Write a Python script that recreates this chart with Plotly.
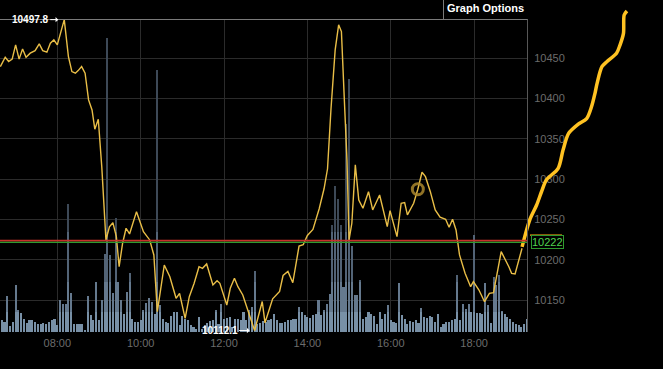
import numpy as np
import pandas as pd
import plotly.graph_objects as go

DAY = "2024-01-02 "

# ---- price line (thin yellow) ----
price_times = ["06:38","06:45","06:50","06:55","07:00","07:05","07:10","07:15","07:21","07:28",
               "07:34","07:39","07:45","07:50","07:55","08:00","08:10","08:16","08:21","08:26",
               "08:30","08:35","08:40","08:45","08:50","08:54","08:59","09:04","09:10","09:15",
               "09:20","09:25","09:29","09:34","09:39","09:44","09:54","10:04","10:13","10:19",
               "10:24","10:29","10:34","10:42","10:51","10:56","11:04","11:10","11:17","11:24",
               "11:29","11:35","11:44","11:50","11:54","12:04","12:09","12:15","12:20","12:27",
               "12:34","12:44","12:55","12:59","13:10","13:20","13:25","13:32","13:39","13:48",
               "13:54","14:00","14:08","14:17","14:24","14:29","14:34","14:40","14:45","14:49",
               "14:53","14:57","15:00","15:04","15:09","15:14","15:20","15:28","15:34","15:44",
               "15:55","15:59","16:09","16:15","16:20","16:24","16:33","16:39","16:45","16:50",
               "16:57","17:04","17:11","17:19","17:24","17:29","17:34","17:39","17:47","17:55",
               "17:59","18:07","18:15","18:22","18:28","18:39","18:50","18:54","18:59","19:09"]
price_values = [10439.6,10451.2,10445.8,10448.8,10466.5,10448.8,10461.5,10451.2,10456.2,10459.4,
                10467.7,10459.4,10457.4,10468.6,10472.7,10466.5,10497.8,10452.0,10433.4,10431.4,
                10434.6,10439.6,10431.4,10398.2,10385.8,10361.9,10374.3,10315.5,10224.5,10240.9,
                10245.9,10228.6,10191.3,10220.4,10239.0,10231.9,10259.6,10234.8,10224.5,10205.9,
                10135.5,10166.5,10193.4,10178.9,10152.1,10158.3,10127.3,10154.1,10170.7,10191.3,
                10189.3,10194.7,10168.6,10174.0,10170.7,10143.8,10164.5,10176.9,10166.5,10156.2,
                10137.6,10112.1,10148.1,10121.7,10151.5,10160.6,10180.4,10185.4,10171.4,10216.9,
                10218.5,10230.0,10237.5,10263.2,10288.0,10312.8,10387.3,10460.3,10491.3,10483.0,
                10402.3,10323.8,10224.5,10245.2,10317.6,10274.1,10263.8,10284.4,10261.7,10280.3,
                10241.0,10260.8,10228.6,10270.0,10270.8,10255.6,10270.0,10287.4,10308.5,10303.0,
                10284.4,10261.7,10252.7,10250.2,10240.2,10250.2,10236.9,10205.9,10183.1,10166.5,
                10172.7,10162.4,10147.9,10158.3,10159.1,10210.0,10191.3,10183.1,10182.3,10214.2]

# ---- live segment (thick orange) ----
live_times = ["19:09","19:20","19:30","19:37","19:44","20:01","20:08","20:16","20:30","20:42",
              "20:49","20:54","20:57","21:04","21:11","21:25","21:30","21:35","21:36","21:40"]
live_values = [10216.0,10249.3,10267.9,10284.4,10299.0,10313.5,10336.2,10356.9,10368.4,10375.3,
               10389.9,10406.6,10419.0,10439.6,10445.8,10456.2,10466.5,10481.0,10503.7,10508.7]

# ---- volume bars (4-minute intervals) ----
vol_start = "06:40"
vol_step = "4min"
vol_values = [117,100,357,57,100,473,223,190,133,90,123,117,100,77,83,90,83,100,117,133,
              67,317,277,283,1277,390,83,83,83,77,23,357,167,117,500,117,317,783,2940,767,
              390,1143,500,317,183,400,590,133,100,100,123,223,290,343,300,183,2623,267,133,100,
              90,157,200,
              200,67,157,133,117,67,50,33,150,33,67,90,110,117,217,83,277,133,143,150,
              50,133,133,117,200,117,217,250,607,83,90,110,100,117,133,183,117,90,90,100,
              117,123,133,133,250,200,167,150,143,167,183,317,167,223,283,377,1067,1457,1333,1067,
              450,2083,2533,
              860,367,367,523,133,150,200,177,157,83,200,133,183,267,117,100,90,493,167,133,
              83,110,100,117,90,240,150,143,157,150,100,177,50,83,100,100,117,133,567,123,
              277,233,283,200,973,190,190,183,490,267,90,550,467,567,210,183,150,133,100,83,
              67,50,83,133]

# ---- markers / reference values ----
high_time, high_value = "08:10", 10497.8
low_time, low_value = "12:44", 10112.1
circle_time, circle_value = "16:39", 10287.4
last_price = 10222
red_level, green_level, orange_level = 10223.6, 10221.4, 10230.5
y_ticks_step = 50

def ts(s):
    return DAY + s

W, H = 663, 369
px_left, px_right, px_top, px_bottom = 0, 528, 19, 332

x_range = [ts("06:37:30"), ts("19:17:36")]
y_range = [10110.3, 10498.6]
x_full_range = [ts("06:37:30"), ts("22:31:54")]
y_full_range = [10064.4, 10522.4]

xdom = [px_left / W, px_right / W]
ydom = [(H - px_bottom) / H, (H - px_top) / H]

fig = go.Figure()

vol_times = pd.date_range(ts(vol_start), periods=len(vol_values), freq=vol_step)
v = np.array(vol_values, dtype=float)
bands = [(0, 200, "#7890a6"), (200, 500, "#65798e"), (500, 1000, "#526376"), (1000, 1e9, "#3d4957")]
for lo, hi, col in bands:
    seg = np.clip(v - lo, 0, hi - lo)
    fig.add_trace(go.Bar(x=vol_times, y=seg, xaxis="x", yaxis="y",
                         marker=dict(color=col, line=dict(width=0)),
                         hoverinfo="skip", showlegend=False))

fig.add_trace(go.Scatter(x=[ts(t) for t in price_times], y=price_values, xaxis="x", yaxis="y2",
                         mode="lines", line=dict(color="#e9be47", width=1.4),
                         hoverinfo="skip", showlegend=False))
fig.add_trace(go.Scatter(x=[ts(circle_time)], y=[circle_value], xaxis="x", yaxis="y2",
                         mode="markers",
                         marker=dict(symbol="circle-open", size=11, color="rgba(170,135,45,0.85)",
                                     line=dict(width=3)),
                         hoverinfo="skip", showlegend=False))
fig.add_trace(go.Scatter(x=[ts(t) for t in live_times], y=live_values, xaxis="x3", yaxis="y3",
                         mode="lines", line=dict(color="#ffc222", width=3.5, shape="spline",
                                                 smoothing=0.8),
                         hoverinfo="skip", showlegend=False))

tickfont = dict(family="Liberation Sans, Arial, sans-serif", size=11, color="#6c6c6c")
grid = "#2b2b2b"

fig.update_layout(
    width=W, height=H,
    margin=dict(l=0, r=0, t=0, b=0),
    paper_bgcolor="black", plot_bgcolor="rgba(0,0,0,0)",
    barmode="stack", bargap=0.25,
    showlegend=False,
    xaxis=dict(domain=xdom, anchor="y", type="date", range=x_range,
               showgrid=True, gridcolor=grid, gridwidth=1, zeroline=False, showline=False,
               tickformat="%H:%M", dtick=7200000, tick0=ts("08:00"),
               ticks="outside", ticklen=1, tickcolor="rgba(0,0,0,0)", tickfont=tickfont),
    yaxis=dict(domain=ydom, anchor="x", range=[0, 3130], visible=False, showgrid=False),
    yaxis2=dict(overlaying="y", anchor="x", side="right", range=y_range,
                dtick=y_ticks_step, tick0=10000, tickformat="d",
                showgrid=True, gridcolor=grid, gridwidth=1,
                zeroline=False, showline=False, ticks="outside", ticklen=3,
                tickcolor="rgba(0,0,0,0)", tickfont=tickfont),
    xaxis3=dict(domain=[0, 1], anchor="y3", type="date", range=x_full_range, visible=False,
                showgrid=False),
    yaxis3=dict(domain=[0, 1], anchor="x3", range=y_full_range, visible=False, showgrid=False),
)

top_y = (H - px_top - 0.5) / H
shapes = [
    dict(type="line", xref="x domain", x0=0, x1=1, yref="y2", y0=red_level, y1=red_level,
         line=dict(color="#c8302a", width=1.6), layer="above"),
    dict(type="line", xref="x domain", x0=0, x1=1, yref="y2", y0=green_level, y1=green_level,
         line=dict(color="#2f9a2f", width=1.2), layer="above"),
    dict(type="line", xref="paper", x0=0, x1=px_right / W, yref="paper", y0=top_y, y1=top_y,
         line=dict(color="#7a7a7a", width=1), layer="above"),
    dict(type="line", xref="paper", x0=(px_right - 0.5) / W, x1=(px_right - 0.5) / W,
         yref="paper", y0=(H - px_bottom) / H, y1=top_y,
         line=dict(color="#575757", width=1), layer="above"),
    dict(type="line", xref="paper", x0=443.5 / W, x1=443.5 / W, yref="paper", y0=top_y, y1=1,
         line=dict(color="#7a7a7a", width=1), layer="above"),
    dict(type="line", xref="paper", x0=530 / W, x1=562 / W, yref="y2", y0=orange_level, y1=orange_level,
         line=dict(color="#d08c10", width=1.5), layer="above"),
]
fig.update_layout(shapes=shapes)

lab_font = dict(family="Liberation Sans, Arial, sans-serif", size=10, color="white")
fig.add_annotation(x=ts(high_time), y=high_value, xref="x", yref="y2",
                   text="<b>%.1f</b>" % high_value, showarrow=True, ax=-34, ay=0,
                   arrowhead=1, arrowsize=0.9, arrowwidth=1, arrowcolor="white", standoff=6,
                   font=lab_font)
fig.add_annotation(x=ts(low_time), y=low_value, xref="x", yref="y2",
                   text="<b>%.1f</b>" % low_value, showarrow=True, ax=-35, ay=0,
                   arrowhead=1, arrowsize=0.9, arrowwidth=1, arrowcolor="white", standoff=5,
                   font=lab_font)
fig.add_annotation(x=531 / W, xref="paper", xanchor="left", y=last_price, yref="y2", yanchor="middle",
                   text=str(last_price), showarrow=False,
                   font=dict(family="Liberation Sans, Arial, sans-serif", size=11, color="#4fd44f"),
                   bordercolor="#2f9a2f", borderwidth=1, borderpad=0, bgcolor="black")
fig.add_annotation(x=(444 + 528) / 2 / W, xref="paper", xanchor="center",
                   y=1 - 8.5 / H, yref="paper", yanchor="middle",
                   text="<b>Graph Options</b>", showarrow=False,
                   font=dict(family="Liberation Sans, Arial, sans-serif", size=11, color="white"))

fig.write_html("out.html", config={"displayModeBar": False},
               post_script="document.body.style.margin='0px';document.body.style.overflow='hidden';")
